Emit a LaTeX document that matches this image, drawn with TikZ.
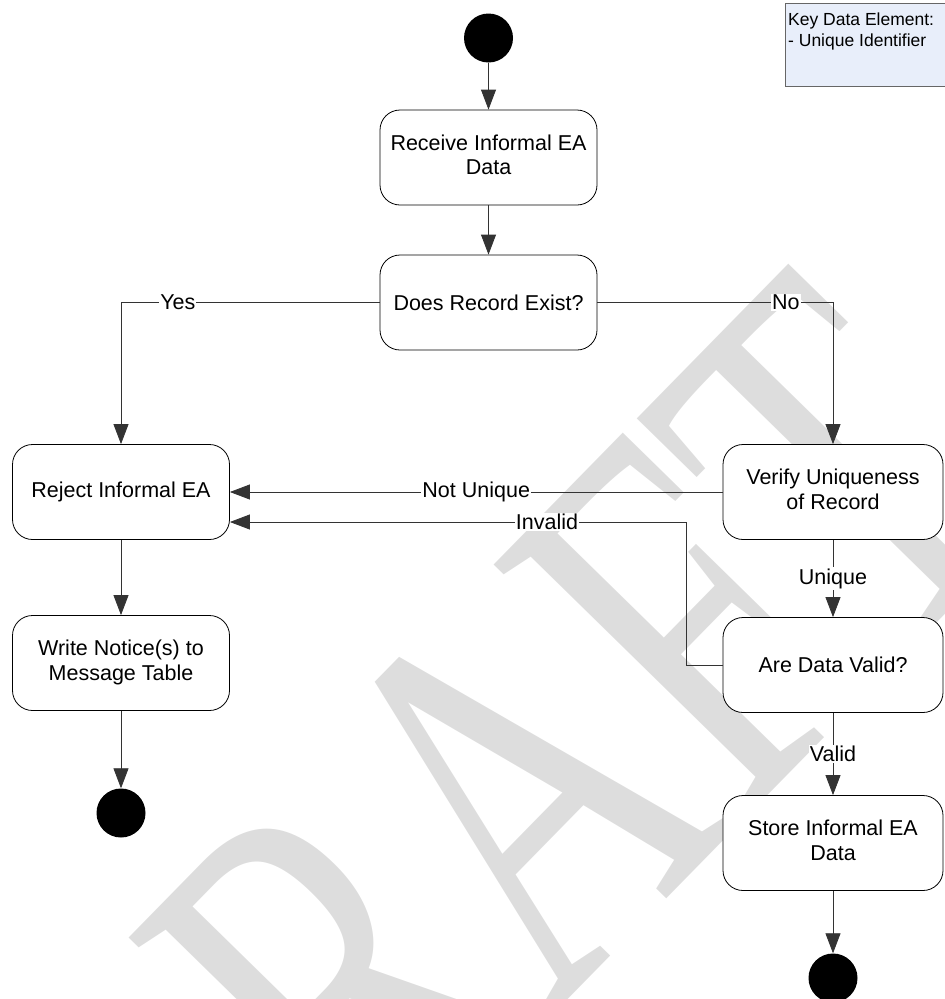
\documentclass[tikz,border=0pt]{standalone}
\usepackage{fontspec}
\setmainfont{Liberation Sans}
\newfontfamily\wmfont{Liberation Serif}
\usetikzlibrary{arrows.meta}

\definecolor{keyblue}{RGB}{232,238,250}
\definecolor{wmgray}{RGB}{221,221,221}

\tikzset{
	activity/.style={draw=black, fill=white, rounded corners=20pt, minimum width=217pt, minimum height=95pt, inner sep=0pt, line width=0.8pt},
	dot/.style={circle, fill=black, minimum size=49pt, inner sep=0pt},
	flow/.style={draw=black!80, line width=0.8pt, -{Triangle[length=20pt,width=15pt]}},
	lbl/.style={fill=white, inner sep=1pt},
	keybox/.style={draw=black!60, fill=keyblue, line width=0.8pt, minimum width=170pt, minimum height=83pt, inner sep=0pt},
}

\begin{document}
\begin{tikzpicture}[x=1pt, y=-1pt, font=\fontsize{21.5}{24.5}\selectfont]
	\useasboundingbox (0,0) rectangle (945,999);
	\clip (0,0) rectangle (945,999);

	% watermark
	\node[anchor=base west, inner sep=0pt, rotate=45.6, yscale=1.45, text=wmgray, font=\wmfont\fontsize{376}{376}\selectfont] (wm) at (186,1390) {DRAFT};

	\node[keybox, anchor=north west] (key) at (785,3) {};
	\node[anchor=north west, align=left, inner sep=0pt, font=\fontsize{17.5}{21}\selectfont] (keytext) at (788,13) {Key Data Element:\\- Unique Identifier};

	\node[dot] (start) at (488.5,38) {};

	\node[activity] (recv) at (488.5,157.5) {\begin{tabular}{c}Receive Informal EA\\Data\end{tabular}};
	\node[activity] (exist) at (488.5,302.5) {Does Record Exist?};

	\node[activity] (reject) at (121,492) {Reject Informal EA};
	\node[activity, minimum width=220pt] (verify) at (833,492) {\begin{tabular}{c}Verify Uniqueness\\of Record\end{tabular}};

	\node[activity] (notice) at (121,663) {\begin{tabular}{c}Write Notice(s) to\\Message Table\end{tabular}};
	\node[activity, minimum width=220pt] (valid) at (833,665) {Are Data Valid?};

	\node[activity, minimum width=220pt] (store) at (833,843) {\begin{tabular}{c}Store Informal EA\\Data\end{tabular}};

	\node[dot] (endL) at (121,813) {};
	\node[dot] (endR) at (833,978) {};

	\draw[flow] (start) -- (recv);
	\draw[flow] (recv) -- (exist);
	\draw[flow] (exist.west) -| node[lbl, pos=0.39] {Yes} (reject.north);
	\draw[flow] (exist.east) -| node[lbl, pos=0.40] {No} (verify.north);
	\draw[flow] (verify.west) -- node[lbl] {Not Unique} (reject.east);
	\draw[flow] (valid.west) -- ++(-36,0) |- coordinate[pos=0.5] (inv) ([yshift=-30pt]reject.east);
	\node[lbl] (invlbl) at (547,522) {Invalid};
	\draw[flow] (verify) -- node[lbl] {Unique} (valid);
	\draw[flow] (valid) -- node[lbl] {Valid} (store);
	\draw[flow] (reject) -- (notice);
	\draw[flow] (notice) -- (endL);
	\draw[flow] (store) -- (endR);
\end{tikzpicture}
\end{document}
